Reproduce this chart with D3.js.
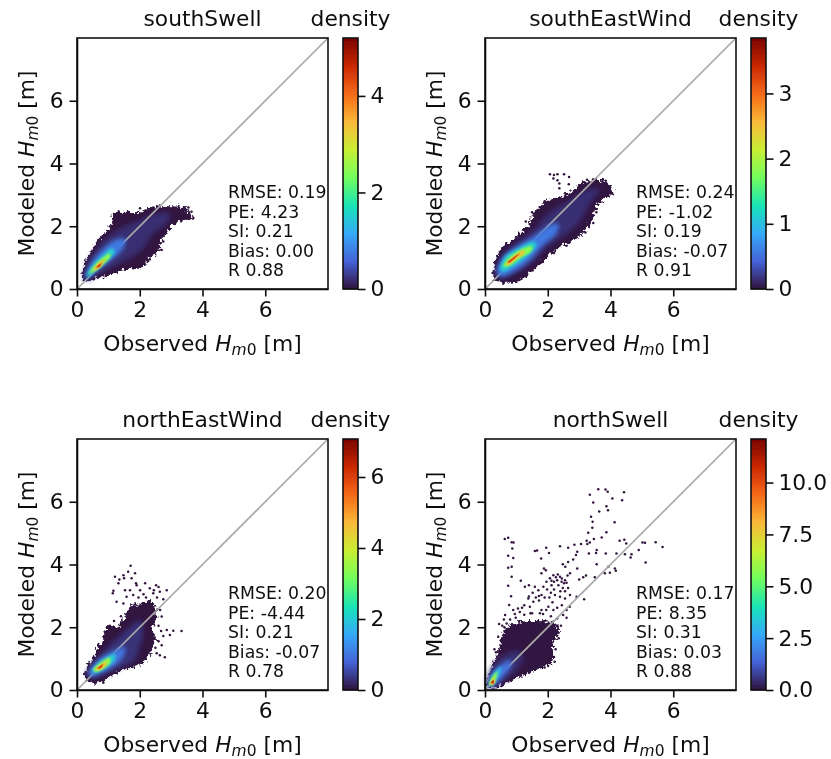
<!DOCTYPE html>
<html><head><meta charset="utf-8">
<script src="https://cdn.jsdelivr.net/npm/d3@7"></script>
<style>html,body{margin:0;padding:0;background:#fff}svg{display:block}text{font-family:"DejaVu Sans";fill:#111}</style>
</head><body><div id="chart"></div>
<script>
const panelNames = ["southSwell","southEastWind","northEastWind","northSwell"];
const statLines = [
  ["RMSE: 0.19","PE: 4.23","SI: 0.21","Bias: 0.00","R 0.88"],
  ["RMSE: 0.24","PE: -1.02","SI: 0.19","Bias: -0.07","R 0.91"],
  ["RMSE: 0.20","PE: -4.44","SI: 0.21","Bias: -0.07","R 0.78"],
  ["RMSE: 0.17","PE: 8.35","SI: 0.31","Bias: 0.03","R 0.88"]
];
const axisTicks = [0,2,4,6];
const densityMax = [5.2,3.85,7.07,12.1];
const densityTicks = [[0,2,4],[0,1,2,3],[0,2,4,6],[0,2.5,5,7.5,10]];
const densityTickLabels = [["0","2","4"],["0","1","2","3"],["0","2","4","6"],["0.0","2.5","5.0","7.5","10.0"]];
const turboStops = ["#30123B","#4662D7","#36AAF9","#1AE4B6","#72FE5E","#C8EF34","#FABA39","#F66B19","#CB2A04","#7A0403"];

// density contours, [observed, modeled], lowest density first
const southSwellLevels = [0.02,0.2,0.75,1.5,2.5,3.5,4.6];
const southSwellOutlines = [
 [[.15,.29],[.20,.71],[.41,1.14],[.63,1.51],[.84,1.77],[1.10,2.04],[1.16,2.41],[1.58,2.46],[2.01,2.46],[2.43,2.62],[2.96,2.64],[3.49,2.57],[3.70,2.25],[3.39,2.20],[3.07,2.04],[2.86,1.77],[2.64,1.51],[2.64,1.24],[2.32,.98],[2.11,.71],[1.79,.66],[1.48,.61],[1.05,.45],[.63,.34],[.31,.23]],
 [[.22,.34],[.36,.87],[.68,1.36],[1.05,1.72],[1.48,1.98],[2.01,2.20],[2.54,2.41],[2.96,2.41],[2.86,2.09],[2.43,1.77],[2.11,1.29],[1.69,.97],[1.26,.76],[.73,.50],[.36,.29]],
 [[.25,.34],[.44,.82],[.79,1.24],[1.21,1.56],[1.53,1.61],[1.48,1.30],[1.16,.98],[.73,.66],[.39,.39]],
 [[.31,.41],[.49,.76],[.79,1.05],[1.10,1.30],[1.21,1.19],[.94,.87],[.63,.61],[.36,.41]],
 [[.39,.50],[.57,.76],[.84,1.01],[1.05,1.14],[1.05,1.01],[.79,.76],[.52,.55]],
 [[.52,.61],[.68,.82],[.89,.94],[.79,.76],[.61,.61]],
 [[.61,.69],[.79,.84],[.71,.71]]
];
const southSwellDots = [[3.55,2.60],[3.65,2.46],[3.70,2.25],[3.55,2.25],[3.44,2.41],[2.64,2.66],[2.43,2.60],[2.01,2.57],[1.32,2.41],[1.21,2.36],[1.16,2.14],[2.75,1.51],[2.70,1.24],[2.11,.87],[2.32,.95],[2.01,.71],[1.79,.66],[1.53,.61]];

const southEastLevels = [0.02,0.15,0.55,1.1,1.8,2.5,3.2];
const southEastOutlines = [
 [[.27,.34],[.37,1.03],[.53,1.30],[.85,1.56],[1.38,2.04],[1.54,2.41],[2.02,2.83],[2.55,2.99],[2.97,3.31],[3.18,3.41],[3.77,3.45],[4.09,3.10],[3.72,2.83],[3.50,2.51],[3.40,2.14],[3.18,1.88],[2.92,1.61],[2.49,1.40],[2.07,1.08],[1.80,.87],[1.49,.55],[1.01,.23],[.58,.20],[.32,.23]],
 [[.37,.45],[.53,1.03],[.90,1.40],[1.54,1.88],[2.07,2.46],[2.71,2.83],[3.24,3.15],[3.66,3.21],[3.34,2.73],[3.08,2.25],[2.71,1.83],[2.07,1.40],[1.54,.87],[1.01,.50],[.53,.34]],
 [[.37,.50],[.58,1.03],[1.01,1.35],[1.54,1.67],[2.07,2.04],[2.34,2.09],[2.28,1.77],[1.86,1.40],[1.43,.92],[.90,.55],[.53,.39]],
 [[.48,.61],[.64,1.03],[1.06,1.30],[1.54,1.51],[1.65,1.40],[1.33,1.03],[.90,.71],[.58,.55]],
 [[.58,.71],[.74,.98],[1.11,1.24],[1.49,1.37],[1.49,1.22],[1.11,.98],[.80,.76]],
 [[.66,.80],[.85,.98],[1.22,1.24],[1.27,1.16],[.96,.92],[.74,.76]],
 [[.71,.84],[.90,1.01],[1.11,1.14],[.96,.98],[.78,.84]]
];
const southEastDots = [[2.07,3.66],[2.20,3.63],[2.31,3.66],[2.52,3.66],[2.68,3.57],[2.67,3.34],[2.37,3.36],[2.18,3.52],[2.31,3.47],[2.37,3.21],[2.55,3.05],[3.90,3.30],[4.05,3.05],[3.85,3.45],[3.45,3.50],[3.25,3.48],[3.55,2.45],[3.45,2.10],[3.20,1.80],[2.60,1.38],[2.20,1.15],[1.75,.82],[1.52,.60],[1.30,2.15],[1.50,2.45],[1.90,2.80]];

const northEastLevels = [0.03,0.3,1.0,2.0,3.4,4.6,6.0];
const northEastOutlines = [
 [[.25,.42],[.36,.80],[.57,1.17],[.68,1.38],[.84,1.65],[.94,2.00],[1.32,2.05],[1.60,2.50],[1.75,2.72],[2.00,2.72],[2.32,2.82],[2.52,2.62],[2.50,2.20],[2.38,1.95],[2.52,1.62],[2.40,1.38],[2.27,1.06],[2.01,.80],[1.58,.69],[1.16,.48],[.79,.27],[.41,.21]],
 [[.31,.48],[.47,.80],[.73,1.11],[1.10,1.49],[1.58,1.91],[2.01,2.23],[2.11,1.80],[2.01,1.38],[1.85,.96],[1.48,.74],[1.06,.58],[.63,.37]],
 [[.36,.51],[.52,.80],[.84,1.08],[1.21,1.27],[1.53,1.38],[1.48,1.06],[1.16,.74],[.73,.53],[.47,.42]],
 [[.47,.58],[.63,.82],[.89,1.01],[1.21,1.15],[1.21,.96],[.94,.72],[.63,.55]],
 [[.52,.64],[.73,.85],[1.05,1.04],[1.05,.85],[.84,.69],[.63,.58]],
 [[.57,.66],[.79,.83],[.94,.93],[.92,.80],[.73,.64]],
 [[.65,.69],[.84,.83],[.75,.69]]
];
const northEastDots = [[1.71,3.96],[1.63,3.77],[1.85,3.72],[1.48,3.66],[1.21,3.61],[1.35,3.52],[1.32,3.40],[1.50,3.56],[1.74,3.56],[1.88,3.40],[1.16,3.16],[1.14,3.08],[1.26,2.81],[1.48,2.76],[1.53,3.18],[1.69,3.18],[2.17,3.40],[2.01,3.18],[2.52,3.34],[2.32,3.24],[2.64,3.13],[2.86,3.18],[2.43,3.08],[2.75,2.89],[2.32,2.81],[1.05,1.91],[.89,1.86],[2.86,1.91],[3.07,1.89],[3.33,1.88],[2.75,1.72],[2.96,1.75],[2.70,1.43],[2.64,1.11],[2.80,1.04],[2.54,1.17],[.79,.32],[.84,.23],[1.58,2.97],[1.90,3.34],[2.38,2.71],[2.70,2.34],[1.79,3.03],[2.60,3.28],[2.45,3.18],[2.12,3.05],[1.96,2.95],[2.20,2.95],[2.55,2.95],[2.65,2.55],[2.60,2.05],[2.68,1.88],[2.60,1.55],[2.50,1.35],[1.18,2.20],[1.05,2.05],[1.40,2.35]];

const northSwellLevels = [0.06,0.45,1.6,3.2,5.8,8,10.8];
const northSwellOutlines = [
 [[.11,.11],[.16,.64],[.37,1.06],[.48,1.49],[.62,1.95],[1.01,2.15],[1.65,2.20],[2.30,2.10],[2.35,1.80],[2.18,1.49],[2.12,.85],[1.65,.64],[1.11,.42],[.58,.16],[.27,.05]],
 [[.07,.11],[.18,.64],[.42,.96],[1.01,1.27],[1.22,1.06],[1.01,.64],[.58,.27],[.27,.08]],
 [[.11,.11],[.21,.53],[.42,.74],[.80,.96],[.85,.80],[.58,.42],[.32,.16]],
 [[.13,.13],[.21,.42],[.37,.64],[.53,.74],[.48,.53],[.32,.27]],
 [[.14,.16],[.23,.42],[.39,.58],[.37,.42],[.29,.21]],
 [[.16,.19],[.27,.37],[.32,.32],[.24,.16]],
 [[.19,.23],[.27,.32],[.27,.21]]
];
const northSwellDots = [[.63,4.81],[.74,4.85],[.85,4.71],[.91,4.70],[.87,4.51],[.74,4.28],[.90,4.21],[.74,3.90],[.85,3.93],[.85,3.61],[.74,3.32],[.83,2.99],[.77,2.71],[1.14,3.48],[1.27,3.29],[1.40,3.34],[1.59,4.43],[1.66,4.45],[1.95,4.53],[2.04,4.37],[1.79,4.19],[2.39,4.58],[2.65,4.53],[2.85,4.63],[3.06,4.65],[3.24,4.76],[3.26,4.65],[3.34,4.70],[3.47,4.81],[3.72,4.86],[3.87,5.03],[3.29,5.01],[3.42,5.17],[3.43,5.36],[3.38,5.52],[4.13,5.35],[3.64,5.69],[3.92,5.73],[3.87,5.86],[3.45,5.98],[3.34,6.22],[3.61,6.40],[3.84,6.39],[3.91,6.32],[4.06,6.10],[4.37,6.05],[4.43,6.30],[4.29,4.76],[4.44,4.79],[4.50,4.67],[5.02,4.70],[5.10,4.69],[5.44,4.71],[5.66,4.56],[5.12,4.06],[4.90,4.46],[4.67,4.33],[4.64,4.22],[4.46,4.33],[4.19,4.35],[3.85,4.35],[3.56,4.46],[3.54,4.37],[3.31,4.35],[2.94,4.41],[2.90,4.30],[2.81,4.16],[2.65,4.08],[2.48,4.01],[2.56,3.93],[1.94,3.82],[1.88,3.87],[1.80,3.72],[3.56,4.01],[2.94,3.87],[4.14,3.87],[4.17,3.80],[3.98,3.74],[3.93,3.93],[3.82,3.72],[3.50,3.59],[3.22,3.65],[3.13,3.59],[3.00,3.52],[2.71,3.72],[2.63,3.65],[2.55,3.50],[2.39,3.61],[2.26,3.59],[2.18,3.66],[2.07,3.56],[1.96,3.45],[1.86,3.29],[1.59,3.29],[1.70,3.18],[1.38,2.92],[1.54,2.81],[1.80,3.03],[2.12,3.34],[2.34,3.34],[2.44,3.45],[2.23,3.03],[2.39,2.97],[2.55,2.92],[2.71,3.03],[2.92,2.97],[3.16,2.89],[2.60,2.55],[2.49,2.39],[2.02,2.65],[1.80,2.55],[1.43,2.65],[1.11,2.49],[.90,2.55],[.64,2.39],[.55,2.05],[.69,2.12],[.45,2.10],[.60,2.25],[.95,2.42],[1.25,2.40],[1.50,2.45],[1.85,2.42],[2.10,2.35],[2.30,2.28],[2.42,2.05],[2.35,1.65],[2.25,1.30],[2.20,1.05],[2.22,.90],[1.90,.72],[1.40,.55],[.85,.40],[.30,1.30],[.42,1.70],[.35,1.20],[.62,2.0],[1.40,2.98],[1.52,3.10],[1.62,2.95],[1.72,2.85],[1.90,2.95],[2.10,3.10],[2.20,3.45],[2.30,3.50],[2.45,3.55],[2.55,3.15],[2.65,3.25],[2.40,3.15],[2.15,2.80],[2.05,2.95],[1.95,2.55],[1.25,2.70],[1.05,2.60],[1.75,2.45],[2.70,2.65],[2.45,2.70],[2.52,3.40],[2.32,3.68],[2.12,3.48],[1.98,3.20],[2.48,3.25],[2.60,3.42],[2.20,3.20],[1.72,3.00],[1.45,2.45],[1.18,2.62],[.98,2.30],[2.30,2.62],[2.60,2.30],[2.18,2.55],[.80,2.25]];

const panelLevels = [southSwellLevels,southEastLevels,northEastLevels,northSwellLevels];
const panelOutlines = [southSwellOutlines,southEastOutlines,northEastOutlines,northSwellOutlines];
const panelDots = [southSwellDots,southEastDots,northEastDots,northSwellDots];
const levelBlur = [0,2.5,2.2,1.6,1.1,0.8,0.5];

const W=831,H=759,size=251,col=[77,485],row=[38,439],barGap=15,barW=15;
const axisColor="#111",baseFont=21.8,statFont=17.3,subFont=15.5,lw=1.6,tickLen=7.5;
const turbo=d3.piecewise(d3.interpolateRgb,turboStops);
const svg=d3.select("#chart").append("svg").attr("width",W).attr("height",H);
const defs=svg.append("defs");
defs.append("filter").attr("id","soft").attr("x","0").attr("y","0").attr("width","100%").attr("height","100%")
  .append("feGaussianBlur").attr("stdDeviation",0.45);
levelBlur.forEach((b,k)=>{ if(b>0) defs.append("filter").attr("id","lev"+k).attr("x","-30%").attr("y","-30%").attr("width","160%").attr("height","160%")
  .append("feGaussianBlur").attr("stdDeviation",b); });
const rough=defs.append("filter").attr("id","rough").attr("x","-10%").attr("y","-10%").attr("width","120%").attr("height","120%");
rough.append("feTurbulence").attr("type","fractalNoise").attr("baseFrequency",0.3).attr("numOctaves",2).attr("seed",4).attr("result","n");
rough.append("feDisplacementMap").attr("in","SourceGraphic").attr("in2","n").attr("scale",9).attr("xChannelSelector","R").attr("yChannelSelector","G");

const root=svg.append("g").attr("filter","url(#soft)");
root.append("rect").attr("width",W).attr("height",H).attr("fill","#fff");

function hm0(t,lead){
  t.append("tspan").text(lead);
  t.append("tspan").attr("font-style","italic").text("H");
  t.append("tspan").attr("font-style","italic").attr("font-size",subFont).attr("dy",4).text("m");
  t.append("tspan").attr("font-size",subFont).text("0");
  t.append("tspan").attr("dy",-4).text(" [m]");
}
function styleAxis(g){
  g.attr("font-size",baseFont).attr("font-family","DejaVu Sans");
  g.selectAll("path,line").attr("stroke",axisColor).attr("stroke-width",lw);
  g.selectAll("text").attr("fill",axisColor);
}

panelNames.forEach((name,i)=>{
  const px=col[i%2],py=row[Math.floor(i/2)];
  const g=root.append("g").attr("transform",`translate(${px},${py})`);
  const x=d3.scaleLinear().domain([0,8]).range([0,size]);
  const y=d3.scaleLinear().domain([0,8]).range([size,0]);
  const c=d3.scaleLinear().domain([0,densityMax[i]]).range([0,1]);
  const line=d3.line().x(d=>x(d[0])).y(d=>y(d[1])).curve(d3.curveCatmullRomClosed.alpha(0.5));
  const fillOf=k=>turbo(c(panelLevels[i][k]));

  // low density marks
  g.append("g").selectAll("path").data(panelOutlines[i].slice(0,2)).join("path")
    .attr("d",d=>line(d)).attr("fill",(d,k)=>fillOf(k))
    .attr("filter",(d,k)=>k===0?"url(#rough)":`url(#lev${k})`);
  g.append("g").selectAll("circle").data(panelDots[i]).join("circle")
    .attr("cx",d=>x(d[0])).attr("cy",d=>y(d[1])).attr("r",1.25).attr("fill",turbo(0));

  // one-to-one line, hidden by the dense core
  g.append("line").attr("x1",x(0)).attr("y1",y(0)).attr("x2",x(8)).attr("y2",y(8))
    .attr("stroke","#aaa").attr("stroke-width",1.7);

  // dense core
  g.append("g").selectAll("path").data(panelOutlines[i].slice(2)).join("path")
    .attr("d",d=>line(d)).attr("fill",(d,k)=>fillOf(k+2))
    .attr("filter",(d,k)=>`url(#lev${k+2})`);

  // frame and axes
  g.append("rect").attr("width",size).attr("height",size).attr("fill","none").attr("stroke",axisColor).attr("stroke-width",lw);
  g.append("g").attr("transform",`translate(0,${size})`)
    .call(d3.axisBottom(x).tickValues(axisTicks).tickSizeInner(tickLen).tickSizeOuter(0).tickPadding(5).tickFormat(d3.format("d"))).call(styleAxis);
  g.append("g").call(d3.axisLeft(y).tickValues(axisTicks).tickSizeInner(tickLen).tickSizeOuter(0).tickPadding(6).tickFormat(d3.format("d"))).call(styleAxis);

  // axis labels
  g.append("text").attr("x",size/2).attr("y",size+62).attr("text-anchor","middle").attr("font-size",baseFont).call(hm0,"Observed ");
  g.append("text").attr("transform",`translate(-43,${size/2}) rotate(-90)`).attr("text-anchor","middle").attr("font-size",baseFont).call(hm0,"Modeled ");
  g.append("text").attr("x",size/2).attr("y",-12).attr("text-anchor","middle").attr("font-size",baseFont).text(name);

  // stats
  g.append("g").selectAll("text").data(statLines[i]).join("text")
    .attr("x",151).attr("y",(d,k)=>160+k*19.6).attr("font-size",statFont).text(d=>d);

  // colour bar
  const bar=g.append("g").attr("transform",`translate(${size+barGap},0)`);
  const cy=d3.scaleLinear().domain([0,densityMax[i]]).range([size,0]);
  const steps=d3.range(0,size);
  bar.append("g").selectAll("rect").data(steps).join("rect")
    .attr("x",0).attr("y",d=>size-d-1).attr("width",barW).attr("height",1.4)
    .attr("fill",d=>turbo((d+.5)/size));
  bar.append("rect").attr("width",barW).attr("height",size).attr("fill","none").attr("stroke",axisColor).attr("stroke-width",lw);
  bar.append("g").attr("transform",`translate(${barW},0)`)
    .call(d3.axisRight(cy).tickValues(densityTicks[i]).tickSizeInner(tickLen).tickSizeOuter(0).tickPadding(5).tickFormat((d,k)=>densityTickLabels[i][k])).call(styleAxis)
    .call(a=>a.select(".domain").remove());
  bar.append("text").attr("x",barW/2).attr("y",-12).attr("text-anchor","middle").attr("font-size",baseFont).text("density");
});
</script></body></html>
